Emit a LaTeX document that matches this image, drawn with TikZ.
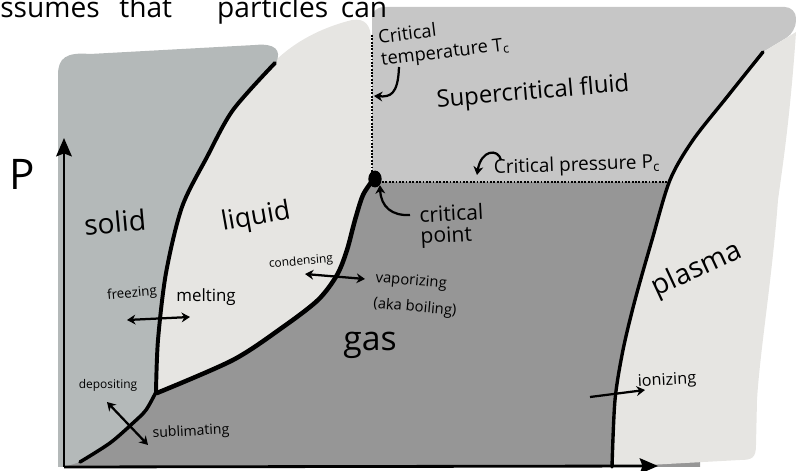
\documentclass[tikz,border=0pt]{standalone}
\usepackage{fontspec}
\setmainfont{Open Sans}
\usetikzlibrary{arrows.meta,positioning,shapes.geometric,calc}
\definecolor{solidfill}{RGB}{180,185,185}
\definecolor{liqfill}{RGB}{230,229,226}
\definecolor{superfill}{RGB}{198,198,198}
\definecolor{gasfill}{RGB}{150,150,150}

\begin{document}
\begin{tikzpicture}[x=0.025cm, y=-0.025cm,
  lbl/.style={inner sep=0pt, align=left, font=\fontsize{#1}{#1}\selectfont},
  phase/.style={line width=2.8pt, line cap=round, line join=round},
  dotline/.style={line width=1.4pt, dash pattern=on 1.3pt off 1.1pt},
  axisarr/.style={-{Stealth[length=13pt, width=11pt, inset=2pt]}, line width=2pt},
  tarr/.style={-{Stealth[length=6pt, width=7pt]}, line width=1.6pt},
  darr/.style={{Stealth[length=6pt, width=7pt]}-{Stealth[length=6pt, width=7pt]}, line width=1.6pt}
]
\useasboundingbox (0,0) rectangle (796,471);

% Regions
\fill[superfill, rounded corners=8pt] (372,182) -- (372,7) -- (796,7) -- (796,32) [sharp corners] -- (763,52) -- (670,182) -- cycle;
\fill[gasfill] (62,467) -- (157,392) -- (360,182) -- (700,182) -- (700,467) -- cycle;
\fill[liqfill] plot[smooth] coordinates {(612,467) (615,400) (623,350) (635,300) (652,240) (670,180) (693,140) (727,97) (763,52)}
  -- (783,40) -- (796,32) .. controls (790,120) and (782,170) .. (778,200)
  .. controls (772,280) and (760,350) .. (757,400) -- (756,445)
  .. controls (756,458) and (752,460) .. (740,460) -- (612,467) -- cycle;
\fill[liqfill] plot[smooth] coordinates {(157,393) (233,360) (283,327) (318,300) (337,275) (347,250) (355,220) (363,195) (373,180)}
  -- (371,178) -- (371,40) .. controls (371,25) and (365,18) .. (352,20)
  .. controls (320,28) and (295,42) .. (276,60)
  -- plot[smooth] coordinates {(275,63) (233,110) (207,157) (182,207) (166,273) (158,340) (156,392)} -- cycle;
\fill[solidfill] (58,467) -- (58,75) .. controls (58,58) and (66,52) .. (90,54) -- (255,45)
  .. controls (275,43) and (282,50) .. (276,63)
  -- plot[smooth] coordinates {(275,63) (233,110) (207,157) (182,207) (166,273) (158,340) (156,392)}
  -- plot[smooth] coordinates {(156,392) (146,410) (133,423) (110,443) (80,462)} -- (64,467) -- cycle;

% Critical lines
\draw[dotline] (372,35) -- (372,172);
\draw[dotline] (382,182) -- (668,182);

% Phase boundaries
\draw[phase] plot[smooth] coordinates {(275,63) (233,110) (207,157) (182,207) (166,273) (158,340) (156,392)};
\draw[phase, line width=2.5pt] plot[smooth] coordinates {(156,392) (146,410) (133,423) (110,443) (80,462)};
\draw[phase, line width=3.2pt] plot[smooth] coordinates {(157,393) (233,360) (283,327) (318,300) (337,275) (347,250) (355,220) (363,195) (373,180)};
\draw[phase, line width=2.4pt] plot[smooth] coordinates {(763,52) (727,97) (693,140) (670,180) (652,240) (635,300) (623,350) (615,400) (612,467)};
\node[ellipse, fill=black, inner sep=0pt, minimum width=9.5pt, minimum height=12pt] (cp) at (375,179) {};

% Axes
\coordinate (origin) at (64,467);
\coordinate (ptop) at (64,138);
\coordinate (tend) at (658,466);
\draw[axisarr] (origin) -- (ptop);
\draw[axisarr] (origin) -- (tend);
\node[lbl=30pt] (plab) at (22,174) {P};

% Header text
\node[lbl=20pt, anchor=base west] (hdr) at (0,18) {ssumes\hspace{14pt}that\hspace{32pt}particles\hspace{9pt}can};

% Region labels
\node[lbl=20pt, rotate=5]  (solid)  at (115,222) {solid};
\node[lbl=19pt, rotate=10] (liquid) at (256,218) {liquid};
\node[lbl=24pt]            (gas)    at (370,345) {gas};
\node[lbl=20pt, rotate=25] (plasma) at (697,270) {plasma};
\node[lbl=17pt, rotate=5]  (scf)    at (533,93)  {Supercritical fluid};

% Critical labels
\node[lbl=13pt, rotate=7]  (tclab) at (444,42)  {Critical\\[3pt]temperature T\textsubscript{c}};
\node[lbl=13.5pt, rotate=2] (pclab) at (577,166) {Critical pressure P\textsubscript{c}};
\node[lbl=15pt, rotate=3]  (cplab) at (452,226) {critical\\point};

% Transition labels
\node[lbl=9.5pt, rotate=5]  (frzlab) at (132,294) {freezing};
\node[lbl=12pt]             (mltlab) at (206,297) {melting};
\node[lbl=8.5pt, rotate=5]  (cndlab) at (301,262) {condensing};
\node[lbl=10.5pt, rotate=-5] (vaplab) at (416,295) {vaporizing\\[8pt](aka boiling)};
\node[lbl=8.5pt]            (deplab) at (108,385) {depositing};
\node[lbl=10pt, rotate=3]   (sublab) at (191,432) {sublimating};
\node[lbl=11.5pt, rotate=3] (ionlab) at (667,381) {ionizing};

% Arrows
\coordinate (frz) at (127,320);
\coordinate (mlt) at (190,317);
\coordinate (cnd) at (305,274);
\coordinate (vap) at (365,279);
\coordinate (dep) at (107,402);
\coordinate (sub) at (148,445);
\coordinate (ion0) at (590,397);
\coordinate (ion1) at (645,390);
\coordinate (tc0) at (399,67);
\coordinate (tc1) at (374,96);
\coordinate (pc0) at (501,160);
\coordinate (pc1) at (477,175);
\coordinate (cpa) at (410,215);
\draw[darr] (frz) -- (mlt);
\draw[darr] (cnd) -- (vap);
\draw[darr] (dep) -- (sub);
\draw[tarr] (ion0) -- (ion1);
\draw[tarr] (tc0) .. controls (398,95) and (390,97) .. (tc1);
\draw[tarr] (pc0) .. controls (498,148) and (481,150) .. (pc1);
\draw[tarr] (cpa) .. controls (392,216) and (381,207) .. (cp.south east);
\end{tikzpicture}
\end{document}
